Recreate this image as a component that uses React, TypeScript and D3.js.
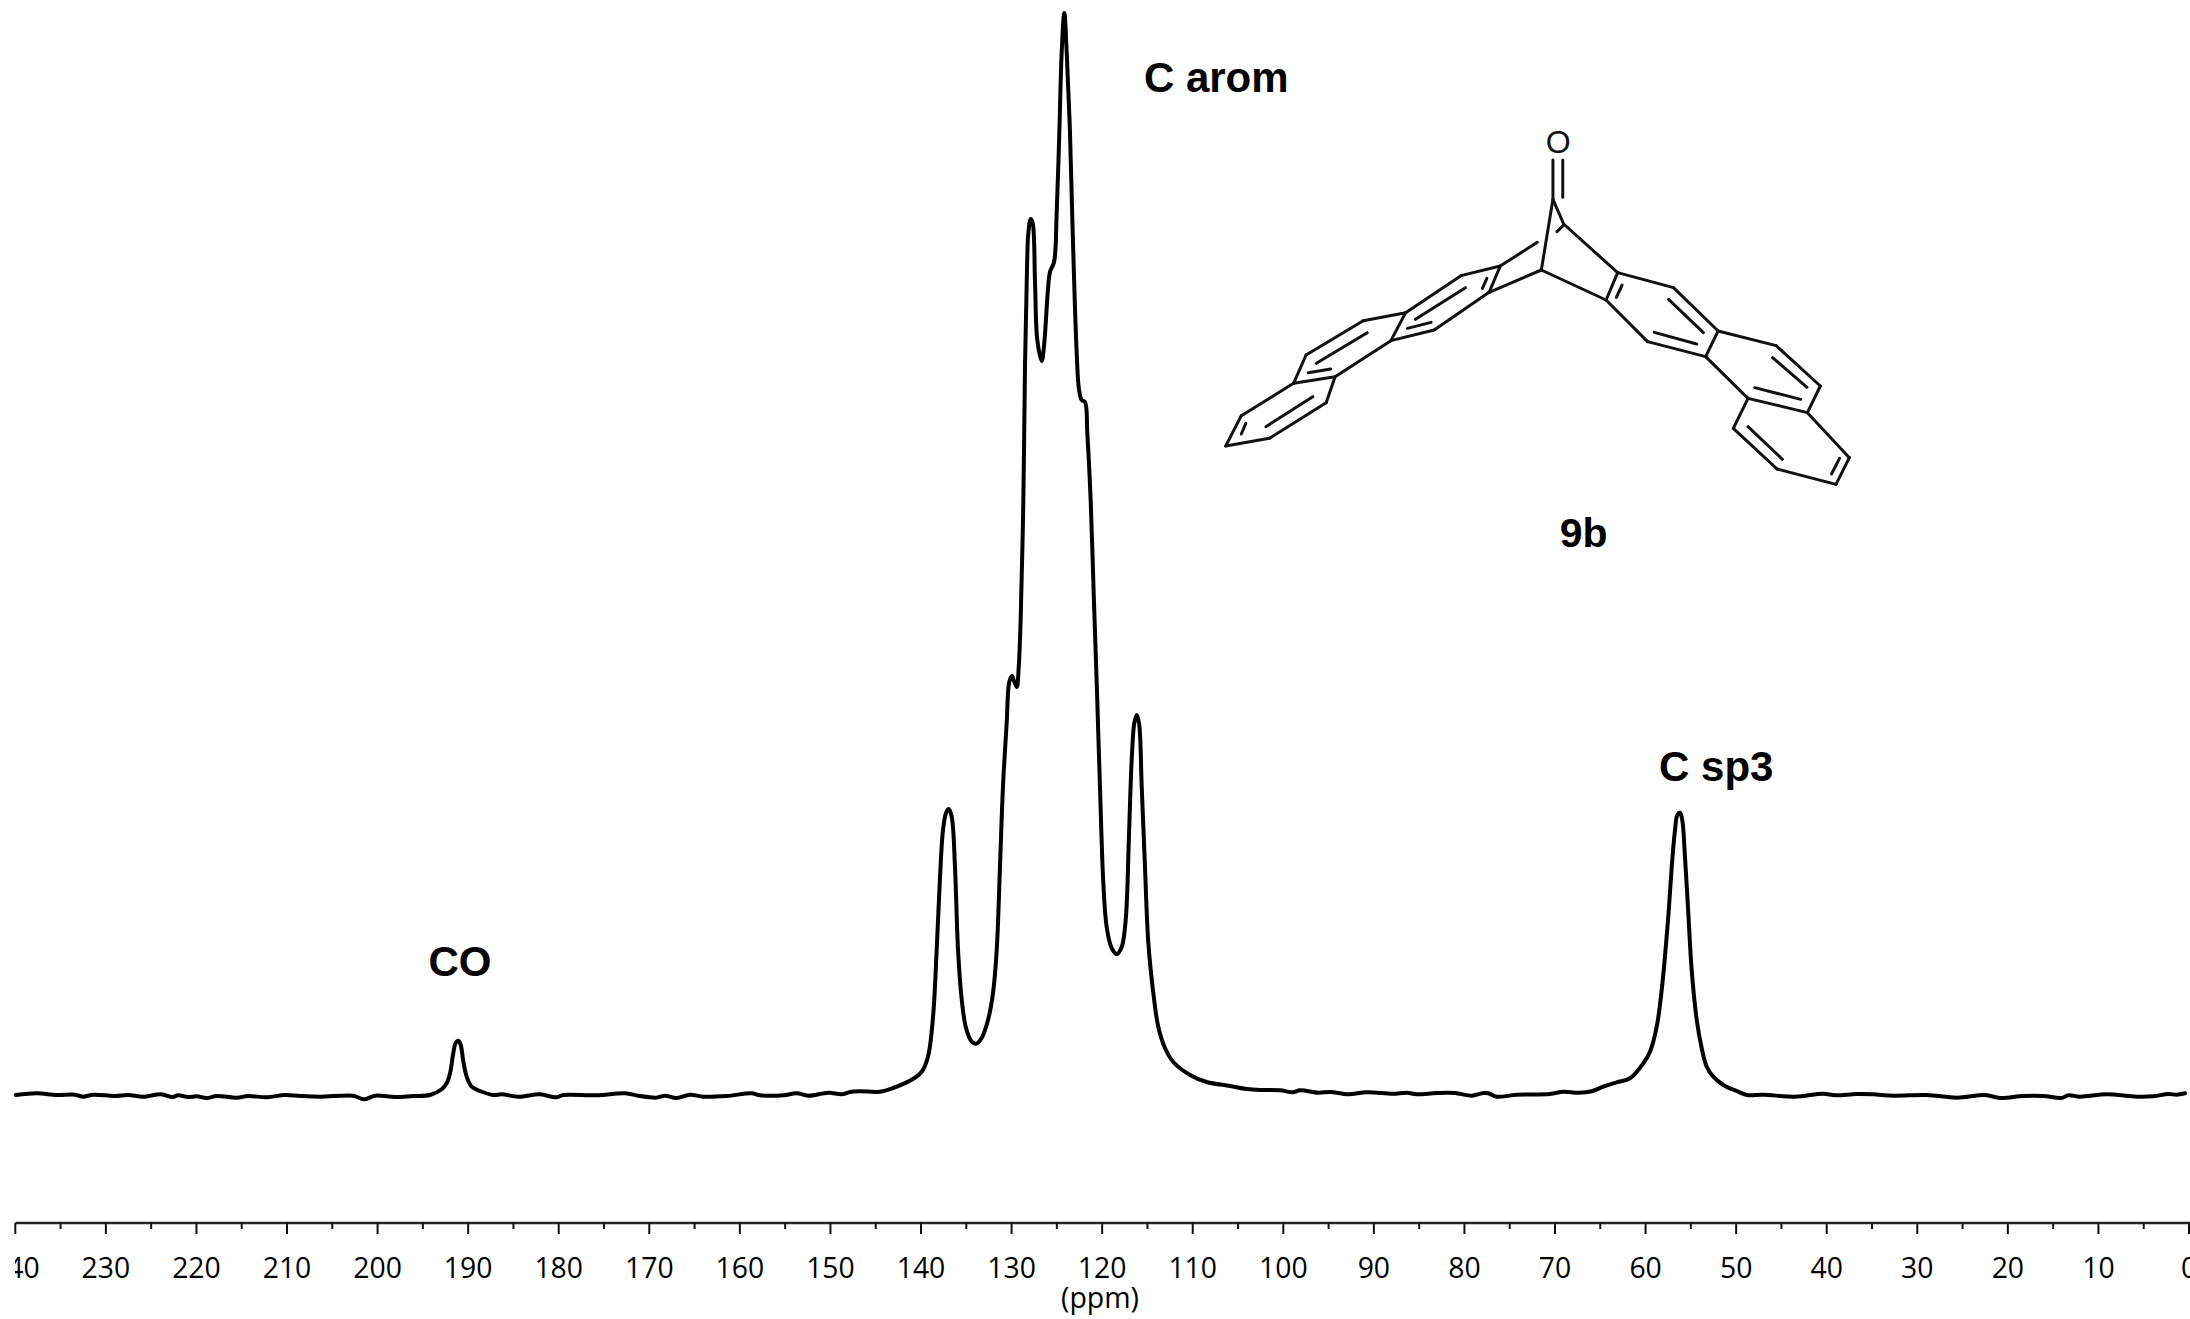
import React from "react";
import * as d3 from "d3";

// Spectrum: chemical shift (ppm) and signal height (arbitrary units)
const shiftPpm = [239.95,237.63,235.43,233.41,232.49,231.39,228.99,227.55,225.9,223.91,222.62,222.03,220.93,219.97,218.87,217.76,215.55,214.31,212.24,210.22,208.56,206.36,202.71,201.5,200.28,198.07,196.09,194.21,
192.92,192.37,192.0,191.64,191.37,191.08,190.82,190.53,190.16,189.61,188.69,187.22,186.29,184.46,182.07,180.3,179.49,175.8,172.68,171.21,169.29,168.26,166.97,165.5,164.04,161.45,158.69,157.77,155.2,153.73,152.44,150.23,148.76,147.84,146.74,144.53,143.09,140.89,139.92,139.23,138.67,138.27,137.9,137.57,137.24,136.94,136.61,136.25,135.91,135.5,135.03,134.4,133.93,133.3,132.6,132.05,131.64,131.28,130.95,130.54,130.25,129.95,129.7,129.43,129.21,128.99,128.7,128.52,128.33,128.15,127.89,127.67,127.41,127.16,126.67,126.39,126.01,125.76,125.31,125.02,124.73,124.47,124.18,123.91,123.55,123.25,122.81,122.55,122.26,121.89,121.64,121.27,120.91,120.6,120.24,119.87,119.5,118.95,118.39,117.84,117.4,117.03,116.74,116.45,116.19,115.93,115.63,115.27,114.9,114.35,113.8,113.06,112.14,110.3,108.46,105.88,104.04,102.57,100.36,98.96,98.16,96.13,94.84,92.82,90.79,87.85,86.37,85.27,83.06,81.04,79.2,77.92,77.36,76.44,74.23,70.55,69.08,67.43,65.95,64.67,63.19,61.72,60.25,59.51,58.77,58.22,57.86,57.49,57.11,56.75,56.5,56.2,55.95,55.65,55.28,54.91,54.35,53.8,53.25,52.52,51.42,49.94,48.83,47.0,43.5,40.38,39.09,36.69,34.89,32.65,28.96,25.65,22.52,20.87,18.3,16.09,14.06,13.33,12.03,9.09,5.77,3.94,2.29,1.36,0.44];
const signal = [0,1.7,0,0.3,-1.7,0.3,-1,0,-1.7,0.7,-2,-0.3,-2,-1.3,-3,-1,-2.7,-1,-2.3,0,-1,-1.7,-0.7,-4.3,-0.7,-2,-1,0,
5.7,11.7,21.7,42,52.3,54.3,50,33.3,18.3,8.3,4,0,0.7,-1.7,0.7,-2.3,0,-0.3,1.7,-0.7,-2.7,-0.7,-3,0.3,-1.7,-1,1.7,-0.3,-0.3,1.7,-0.7,2.3,0.7,3,3.7,3.3,7,16,23.3,38.3,78.3,145,218.3,265,282,286,278.3,228.3,145,95,67,53.3,51.3,57,75,102,145,228.3,308.3,372,413.3,419,413.3,408,428.3,478.3,595,728,812,862,876,872,812,755,734,752,802,823,833,882,962,1042,1082,1042,962,862,742,705,695,693,662,595,495,412,308,212,168,147,141,148,175,262,335,372,380,372,308,228,152,102,68,47,33,20,13,9,6,5,4.7,2.7,4.7,2.3,3,0.7,2.7,1.3,2.3,0.7,2,2,-0.7,2,1.7,-1.7,0.3,1,3.3,2.3,3.7,8.3,12.7,16.7,31.7,43.3,68.3,105,138.3,178.3,228.3,265,280,282.3,275,238.3,181.7,125,75,46.7,28.3,18.3,10,4,0,0.3,-1.7,1.3,-0.3,1,0.7,-0.7,0,-2.7,0,-3,-1,-1,-3,-0.3,-1.7,0.7,-1.7,-1.3,1,0.3,1.7];

const majorTicks = d3.range(0, 241, 10);
const minorTicks = d3.range(5, 240, 10);

// Peak annotations: ppm position of the centre, and signal height of the baseline
const annotations = [
  { text: "CO", ppm: 190.9, height: 119 },
  { text: "C arom", ppm: 107.4, height: 1003 },
  { text: "C sp3", ppm: 52.2, height: 314 },
];

// Structure 9b, in its own drawing units
const bonds: number[][] = [
  [813,150,813,265],[835,150,835,262],[813,268,787,480],[813,268,837,342],[837,342,958,488],[837,345,822,365],
  [787,480,932,570],[787,480,670,547],[778,397,695,468],[958,488,932,570],[968,525,955,562],[958,488,1083,533],
  [1083,533,1183,663],[1072,568,1150,668],[1183,663,1155,740],[932,570,1025,695],[1025,695,1155,740],[1040,667,1135,702],
  [1183,663,1313,707],[1313,707,1412,828],[1305,743,1382,832],[1412,828,1383,908],[1155,740,1250,865],[1250,865,1383,908],
  [1265,833,1368,868],[1250,865,1217,955],[1217,955,1315,1077],[1250,950,1327,1048],[1315,1077,1447,1123],[1447,1123,1477,1043],
  [1437,1092,1455,1045],[1477,1043,1383,908],
  [695,468,607,497],[695,468,670,547],[665,505,655,535],[607,497,483,608],[617,533,505,628],[670,547,547,660],[547,660,450,692],
  [483,608,450,692],[540,637,487,655],[483,608,388,632],[388,632,260,735],[397,668,283,760],[450,692,325,800],[260,735,232,820],
  [325,800,232,820],[315,777,265,788],[325,800,305,878],[232,820,115,917],[305,878,178,985],[275,860,170,950],[115,917,80,1008],
  [125,940,115,972],[80,1008,178,985],
];

const WIDTH = 2190;
const HEIGHT = 1319;

const x = d3.scaleLinear().domain([240, 0]).range([15.3, 2189]);
const y = d3.scaleLinear().domain([0, 1082]).range([1095, 13]);
const molU = (v: number) => 1190 + v / 2.24;
const molV = (v: number) => 110 + v / 3;

const points: [number, number][] = shiftPpm.map((p, i) => [p, signal[i]]);
const spectrum = d3
  .line<[number, number]>()
  .x((d) => x(d[0]))
  .y((d) => y(d[1]))
  .curve(d3.curveCatmullRom.alpha(0.5));

const AXIS_Y = 1223;
const boldFont = "'Liberation Sans', Arial, sans-serif";
const axisFont = "'Open Sans', sans-serif";

export default function App() {
  return (
    <svg
      width={WIDTH}
      height={HEIGHT}
      viewBox={`0 0 ${WIDTH} ${HEIGHT}`}
      style={{ position: "absolute", left: 0, top: 0, display: "block", background: "#fff" }}
    >
      <defs>
        <clipPath id="axisClip">
          <rect x={15} y={1200} width={WIDTH - 15} height={119} />
        </clipPath>
      </defs>

      <path d={spectrum(points) ?? ""} fill="none" stroke="#000" strokeWidth={4} strokeLinejoin="round" strokeLinecap="round" />

      <line x1={x(240)} x2={WIDTH} y1={AXIS_Y} y2={AXIS_Y} stroke="#222" strokeWidth={2.6} />
      {majorTicks.map((t) => (
        <line key={t} x1={x(t)} x2={x(t)} y1={AXIS_Y} y2={AXIS_Y + 11} stroke="#111" strokeWidth={2} />
      ))}
      {minorTicks.map((t) => (
        <line key={t} x1={x(t)} x2={x(t)} y1={AXIS_Y} y2={AXIS_Y + 6} stroke="#111" strokeWidth={2} />
      ))}
      <g clipPath="url(#axisClip)" fontFamily={axisFont} fontSize={30} fill="#000" textAnchor="middle">
        {majorTicks.map((t) => {
          const s = String(t);
          return (
            <text key={t} x={x(t)} y={1278} textLength={s.length * 16.2} lengthAdjust="spacingAndGlyphs">
              {s}
            </text>
          );
        })}
      </g>
      <text x={1100} y={1308} fontFamily={axisFont} fontSize={29} textAnchor="middle" textLength={78} lengthAdjust="spacingAndGlyphs">
        (ppm)
      </text>

      {annotations.map((a) => (
        <text key={a.text} x={x(a.ppm)} y={y(a.height)} fontFamily={boldFont} fontWeight={700} fontSize={42} textAnchor="middle">
          {a.text}
        </text>
      ))}

      <g stroke="#111" strokeWidth={3} strokeLinecap="round">
        {bonds.map((b, i) => (
          <line key={i} x1={molU(b[0])} y1={molV(b[1])} x2={molU(b[2])} y2={molV(b[3])} />
        ))}
      </g>
      <text x={molU(825)} y={molV(130)} fontFamily={boldFont} fontSize={32} textAnchor="middle" fill="#111">
        O
      </text>
      <text x={molU(882)} y={molV(1310)} fontFamily={boldFont} fontWeight={700} fontSize={41} textAnchor="middle">
        9b
      </text>
    </svg>
  );
}
